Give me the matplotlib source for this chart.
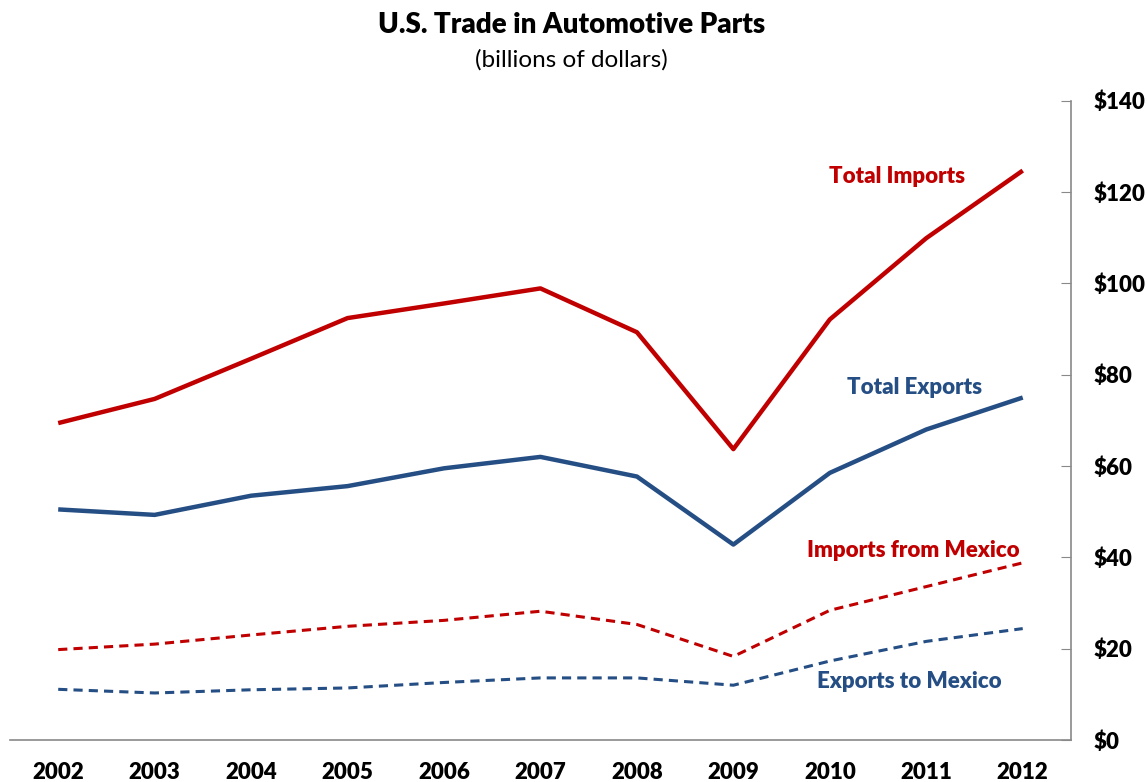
import matplotlib
matplotlib.use("Agg")
import matplotlib.pyplot as plt
from matplotlib.ticker import FuncFormatter

plt.rcParams['font.family'] = ['Lato', 'DejaVu Sans']

years = [2002, 2003, 2004, 2005, 2006, 2007, 2008, 2009, 2010, 2011, 2012]
total_imports = [69.4, 74.7, 83.5, 92.4, 95.6, 98.9, 89.3, 63.7, 92.1, 109.9, 124.7]
total_exports = [50.5, 49.3, 53.5, 55.6, 59.5, 62.0, 57.7, 42.8, 58.5, 68.0, 75.0]
imports_mexico = [19.8, 21.0, 23.0, 24.9, 26.2, 28.2, 25.3, 18.3, 28.4, 33.6, 38.8]
exports_mexico = [11.1, 10.3, 11.0, 11.4, 12.6, 13.6, 13.6, 12.0, 17.3, 21.6, 24.4]
y_ticks = [0, 20, 40, 60, 80, 100, 120, 140]

red = '#C00000'
blue = '#254E84'
heavy = 'heavy'

fig = plt.figure(figsize=(11.47, 7.82), dpi=100)
ax = fig.add_axes([0.0087, 0.0537, 0.925, 0.8175])

ax.plot(years, total_imports, color=red, lw=3.2, solid_capstyle='butt')
ax.plot(years, total_exports, color=blue, lw=3.2, solid_capstyle='butt')
ax.plot(years, imports_mexico, color=red, lw=2.2, ls=(0, (3, 2)))
ax.plot(years, exports_mexico, color=blue, lw=2.2, ls=(0, (3, 2)))

ax.set_xlim(2001.5, 2012.5)
ax.set_ylim(0, 140)
ax.set_xticks(years)
ax.set_yticks(y_ticks)
ax.yaxis.set_major_formatter(FuncFormatter(lambda v, p: '${:.0f}'.format(v)))
ax.yaxis.tick_right()

for s in ['top', 'left']:
    ax.spines[s].set_visible(False)
for s in ['bottom', 'right']:
    ax.spines[s].set_color('#898989')
    ax.spines[s].set_linewidth(1.2)

ax.tick_params(axis='x', length=0, pad=16, labelsize=16)
ax.tick_params(axis='y', direction='in', length=7, color='#898989', pad=16, labelsize=16)
for lbl in ax.get_xticklabels() + ax.get_yticklabels():
    lbl.set_fontweight(heavy)

# series labels
ax.text(2010.7, 123.3, 'Total Imports', color=red, fontsize=16, fontweight=heavy, ha='center', va='center')
ax.text(2010.88, 77.3, 'Total Exports', color=blue, fontsize=16, fontweight=heavy, ha='center', va='center')
ax.text(2010.87, 41.4, 'Imports from Mexico', color=red, fontsize=16, fontweight=heavy, ha='center', va='center')
ax.text(2010.82, 12.9, 'Exports to Mexico', color=blue, fontsize=16, fontweight=heavy, ha='center', va='center')

fig.text(0.498, 0.968, 'U.S. Trade in Automotive Parts', fontsize=20, fontweight=heavy, ha='center', va='center')
fig.text(0.498, 0.923, '(billions of dollars)', fontsize=17.5, ha='center', va='center')

fig.savefig('out.png', dpi=100)
